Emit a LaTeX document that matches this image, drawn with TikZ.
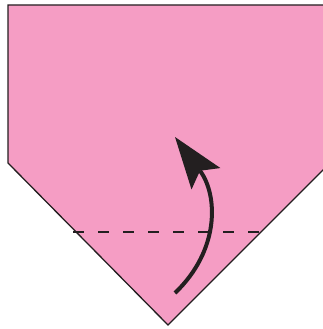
\documentclass[tikz,border=0pt]{standalone}
\usepackage{tikz}
\usetikzlibrary{arrows.meta}

\definecolor{paperpink}{RGB}{245,157,196}
\definecolor{inkdark}{RGB}{35,31,32}

\tikzset{
  foldline/.style={inkdark, line width=1.1pt, dash pattern=on 11pt off 14pt},
  edgeline/.style={inkdark, line width=1.3pt, line join=miter},
  turnarrow/.style={inkdark, line width=4pt,
    -{Stealth[length=52pt, width=36pt, inset=10pt, line width=0pt]}}
}

\begin{document}
\begin{tikzpicture}[x=1pt, y=-1pt]
    \useasboundingbox (0,0) rectangle (323,329);
    % paper
    \fill[paperpink] (8,5) -- (330,5) -- (330,163) -- (168,325) -- (8,163) -- cycle;
    \draw[edgeline] (330,5) -- (8,5) -- (8,163) -- (168,325) -- (330,163);
    % fold line
    \coordinate (fl) at (73,232);
    \coordinate (fr) at (262,232);
    \draw[foldline] (fl) -- (fr);
    % arrow
    \coordinate (as) at (175,293);
    \coordinate (ae) at (175,137);
    \draw[turnarrow] (as) .. controls (220,250) and (218,195) .. (ae);
\end{tikzpicture}
\end{document}
